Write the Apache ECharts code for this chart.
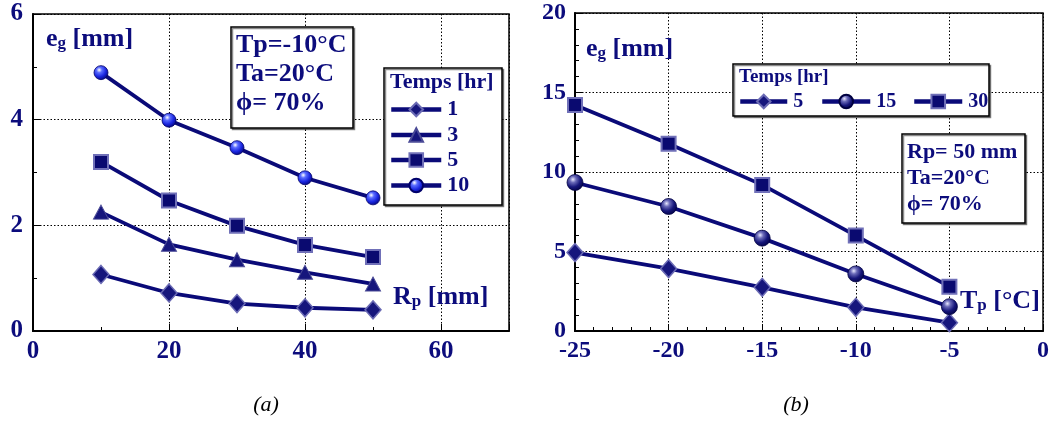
<!DOCTYPE html>
<html><head><meta charset="utf-8">
<script src="https://cdn.jsdelivr.net/npm/echarts@6/dist/echarts.min.js"></script>
<style>html,body{margin:0;padding:0;background:#fff}#c{width:1063px;height:427px}</style>
</head><body><div id="c"></div>
<script>
// ---- data (a): e_g [mm] vs R_p [mm] ----
const rpValues = [10, 20, 30, 40, 50];
const eg_a_1h  = [1.07, 0.72, 0.52, 0.44, 0.40];
const eg_a_3h  = [2.25, 1.64, 1.35, 1.11, 0.89];
const eg_a_5h  = [3.20, 2.47, 1.99, 1.63, 1.40];
const eg_a_10h = [4.89, 3.99, 3.47, 2.90, 2.52];
// ---- data (b): e_g [mm] vs T_p [°C] ----
const tpValues = [-25, -20, -15, -10, -5];
const eg_b_5h  = [4.93, 3.92, 2.75, 1.49, 0.52];
const eg_b_15h = [9.34, 7.83, 5.84, 3.59, 1.53];
const eg_b_30h = [14.21, 11.78, 9.19, 6.00, 2.79];
// ---- texts ----
const legendTitle = 'Temps [hr]';
const annotA = ['Tp=-10°C', 'Ta=20°C', 'ϕ= 70%'];
const annotB = ['Rp= 50 mm', 'Ta=20°C', 'ϕ= 70%'];

const NAVY = '#0c0c7c';
const LINE = '#0a0a78';
const FONT = '"Liberation Serif", "Times New Roman", serif';

const pairs = (xs, ys) => xs.map((x, i) => [x, ys[i]]);

const sphereBright = {type:'radial', x:0.38, y:0.32, r:0.75, colorStops:[
  {offset:0, color:'#ffffff'}, {offset:0.25, color:'#5a6cff'}, {offset:0.6, color:'#1a26e0'}, {offset:1, color:'#00006a'}]};
const sphereDark = {type:'radial', x:0.38, y:0.32, r:0.75, colorStops:[
  {offset:0, color:'#e8e8ff'}, {offset:0.25, color:'#6a6ab8'}, {offset:0.6, color:'#16167a'}, {offset:1, color:'#000040'}]};

const styles = {
  diamond: {symbol:'diamond', symbolSize:[16,18], itemStyle:{color:'#16167c', borderColor:'#6a6ab4', borderWidth:1.5}},
  triangle:{symbol:'triangle', symbolSize:[15,14], itemStyle:{color:'#16167c', borderColor:'#4a4a96', borderWidth:1}},
  square:  {symbol:'rect', symbolSize:14, itemStyle:{color:'#0a0a70', borderColor:'#7070b8', borderWidth:2}},
  sphereA: {symbol:'circle', symbolSize:14, itemStyle:{color:sphereBright, borderColor:'#00006a', borderWidth:0.8}},
  sphereB: {symbol:'circle', symbolSize:16, itemStyle:{color:sphereDark, borderColor:'#000040', borderWidth:0.8}}
};

function mkSeries(name, xi, yi, xs, ys, st) {
  return Object.assign({
    name, type:'line', xAxisIndex:xi, yAxisIndex:yi, data:pairs(xs, ys),
    lineStyle:{color:LINE, width:3.8}, showAllSymbol:true, animation:false, z:3
  }, st);
}

const axisCommon = (o) => Object.assign({
  type:'value',
  axisLine:{show:true, onZero:false, lineStyle:{color:'#000', width:2}},
  axisTick:{show:true, inside:true, length:7, lineStyle:{color:'#000', width:1}},
  minorTick:{show:true, length:4, lineStyle:{color:'#000', width:1}},
  splitLine:{show:true, lineStyle:{color:'#000', width:1, type:[1.5,2]}},
  axisLabel:{color:NAVY, fontFamily:FONT, fontWeight:'bold', fontSize:25, showMaxLabel:true}
}, o);

function legendItem(name, left, top, fontSize) {
  return {
    data:[name], orient:'horizontal', left, top, padding:0,
    itemWidth:50, itemHeight:17, itemGap:0, z:20,
    selectedMode:false,
    lineStyle:{color:LINE, width:4.5},
    formatter:(n) => n.replace(/^[ab]/, ''),
    textStyle:{color:NAVY, fontFamily:FONT, fontWeight:'bold', fontSize, lineHeight:17, padding:[0,0,0,1]}
  };
}

function boxText(x, y, lines, fontSize, lh) {
  return {type:'text', left:x, top:y, z:12, style:{
    text: lines.join('\n'), font:`bold ${fontSize}px ${FONT}`, fill:NAVY, lineHeight:lh}};
}
function rect(x, y, w, h) {
  return {type:'rect', shape:{x, y, width:w, height:h}, z:10,
    style:{fill:'#fff', stroke:'#000', lineWidth:1.5, shadowColor:'rgba(0,0,0,0.45)', shadowOffsetX:1.5, shadowOffsetY:1.5, shadowBlur:0}};
}
function subLabel(x, y, main, sub, rest) {
  return {type:'text', left:x, top:y, z:12, style:{
    text:`{m|${main}}{s|${sub}}{m|${rest}}`,
    rich:{
      m:{font:`bold 26px ${FONT}`, fill:NAVY, color:NAVY, verticalAlign:'bottom', lineHeight:30},
      s:{font:`bold 17px ${FONT}`, fill:NAVY, color:NAVY, verticalAlign:'bottom', lineHeight:22, padding:[0,0,0,0]}
    }}};
}

const chart = echarts.init(document.getElementById('c'), null, {renderer:'canvas'});
chart.setOption({
  animation:false,
  backgroundColor:'#fff',
  grid:[
    {left:33, top:14, width:476, height:317, show:true, borderColor:'#000', borderWidth:1.5, outerBoundsMode:'none', containLabel:false},
    {left:575, top:13, width:468, height:318, show:true, borderColor:'#000', borderWidth:1.5, outerBoundsMode:'none', containLabel:false}
  ],
  xAxis:[
    axisCommon({gridIndex:0, min:0, max:70, interval:20, minorTick:{show:true, splitNumber:2, length:4, lineStyle:{color:'#000'}},
      axisLabel:{color:NAVY, fontFamily:FONT, fontWeight:'bold', fontSize:25, showMaxLabel:false, margin:8}}),
    axisCommon({gridIndex:1, min:-25, max:0, interval:5, minorTick:{show:true, splitNumber:5, length:4, lineStyle:{color:'#000'}},
      axisLabel:{color:NAVY, fontFamily:FONT, fontWeight:'bold', fontSize:24, margin:8}})
  ],
  yAxis:[
    axisCommon({gridIndex:0, min:0, max:6, interval:2, minorTick:{show:true, splitNumber:2, length:4, lineStyle:{color:'#000'}},
      axisLabel:{color:NAVY, fontFamily:FONT, fontWeight:'bold', fontSize:25, margin:10}}),
    axisCommon({gridIndex:1, min:0, max:20, interval:5, minorTick:{show:true, splitNumber:5, length:4, lineStyle:{color:'#000'}},
      axisLabel:{color:NAVY, fontFamily:FONT, fontWeight:'bold', fontSize:24, margin:9}})
  ],
  legend:[
    legendItem('a1', 389, 98.5, 22),
    legendItem('a3', 389, 124, 22),
    legendItem('a5', 389, 149, 22),
    legendItem('a10', 389, 174.5, 22),
    Object.assign(legendItem('b5', 738, 91.5, 20), {itemWidth:47}),
    Object.assign(legendItem('b15', 820, 91.5, 20), {itemWidth:48}),
    Object.assign(legendItem('b30', 912, 91.5, 20), {itemWidth:48})
  ],
  series:[
    mkSeries('a1', 0, 0, rpValues, eg_a_1h, styles.diamond),
    mkSeries('a3', 0, 0, rpValues, eg_a_3h, styles.triangle),
    mkSeries('a5', 0, 0, rpValues, eg_a_5h, styles.square),
    mkSeries('a10', 0, 0, rpValues, eg_a_10h, styles.sphereA),
    mkSeries('b5', 1, 1, tpValues, eg_b_5h, styles.diamond),
    mkSeries('b15', 1, 1, tpValues, eg_b_15h, styles.sphereB),
    mkSeries('b30', 1, 1, tpValues, eg_b_30h, styles.square)
  ],
  graphic:[
    rect(384, 68, 118, 137),
    {type:'text', left:390, top:71, z:12, style:{text:legendTitle, font:`bold 22px ${FONT}`, fill:NAVY}},
    rect(733, 64, 256, 52),
    {type:'text', left:739, top:68, z:12, style:{text:legendTitle, font:`bold 19px ${FONT}`, fill:NAVY}},
    rect(231, 27, 122, 101),
    boxText(236, 31, annotA, 26, 29),
    rect(902, 134, 123, 89),
    boxText(907, 139, annotB, 22, 26),
    subLabel(46, 26, 'e', 'g', ' [mm]'),
    subLabel(586, 36, 'e', 'g', ' [mm]'),
    subLabel(393, 284, 'R', 'p', ' [mm]'),
    subLabel(960, 288, 'T', 'p', ' [°C]'),
    {type:'text', x:266, y:405, z:12, style:{text:'(a)', font:`italic 22px ${FONT}`, fill:'#000', align:'center', verticalAlign:'middle'}},
    {type:'text', x:796, y:405, z:12, style:{text:'(b)', font:`italic 22px ${FONT}`, fill:'#000', align:'center', verticalAlign:'middle'}}
  ]
});
</script></body></html>
